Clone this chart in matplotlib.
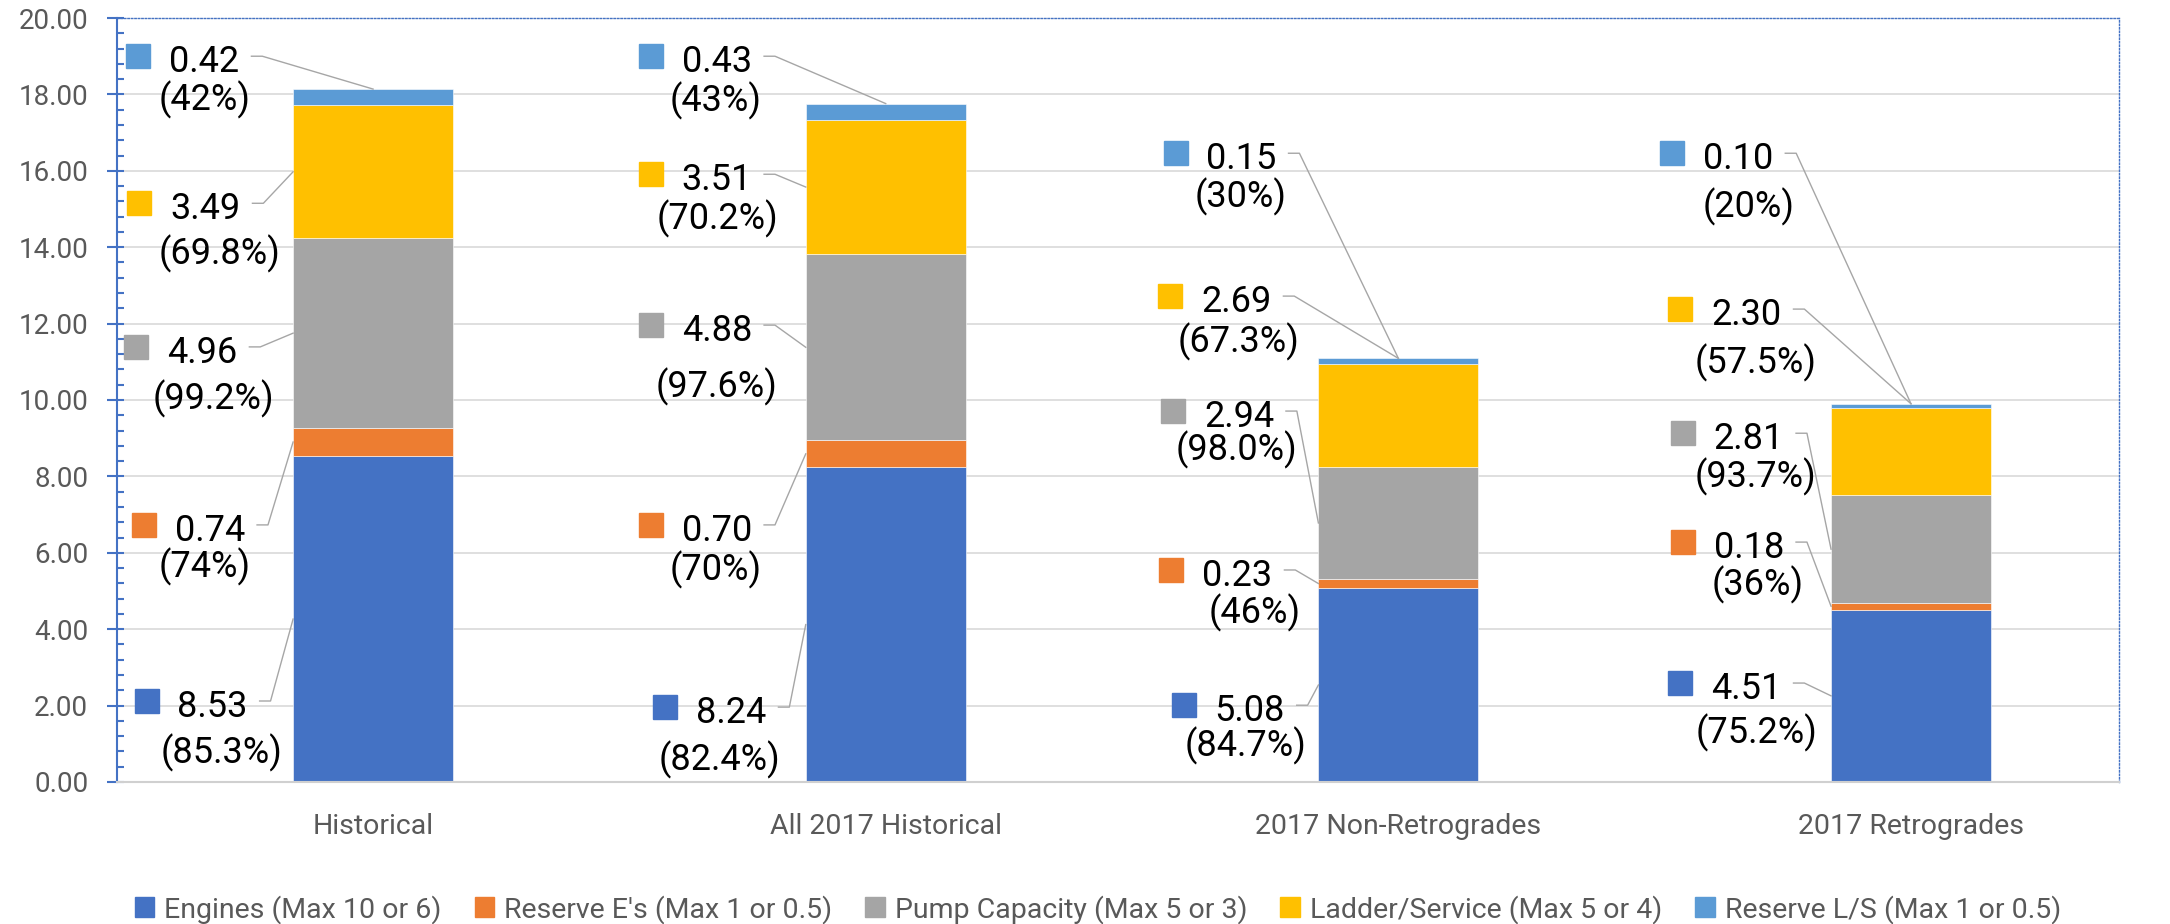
import matplotlib
matplotlib.use('Agg')
import matplotlib.pyplot as plt
import numpy as np
from matplotlib.patches import Patch
from matplotlib.ticker import MultipleLocator, FormatStrFormatter

plt.rcParams['font.family'] = ['Roboto', 'DejaVu Sans']

categories = ['Historical', 'All 2017 Historical', '2017 Non-Retrogrades', '2017 Retrogrades']
series_names = ['Engines (Max 10 or 6)', "Reserve E's (Max 1 or 0.5)", 'Pump Capacity (Max 5 or 3)',
                'Ladder/Service (Max 5 or 4)', 'Reserve L/S (Max 1 or 0.5)']
engines = [8.53, 8.24, 5.08, 4.51]
reserve_e = [0.74, 0.70, 0.23, 0.18]
pump = [4.96, 4.88, 2.94, 2.81]
ladder = [3.49, 3.51, 2.69, 2.30]
reserve_ls = [0.42, 0.43, 0.15, 0.10]
engines_pct = ['85.3%', '82.4%', '84.7%', '75.2%']
reserve_e_pct = ['74%', '70%', '46%', '36%']
pump_pct = ['99.2%', '97.6%', '98.0%', '93.7%']
ladder_pct = ['69.8%', '70.2%', '67.3%', '57.5%']
reserve_ls_pct = ['42%', '43%', '30%', '20%']

colors = ['#4472C4', '#ED7D31', '#A5A5A5', '#FFC000', '#5B9BD5']

# hand-placed label boxes: (value dx from bar centre, value y, pct dx, pct y)
label_pos = [
    [(-0.313, 2.07, -0.296, 0.76), (-0.301, 1.91, -0.324, 0.58), (-0.290, 1.96, -0.299, 0.94), (-0.321, 2.54, -0.302, 1.28)],
    [(-0.318, 6.68, -0.328, 5.63), (-0.329, 6.68, -0.332, 5.55), (-0.314, 5.50, -0.280, 4.42), (-0.316, 6.23, -0.300, 5.16)],
    [(-0.333, 11.34, -0.311, 10.03), (-0.329, 11.91, -0.329, 10.34), (-0.311, 9.66, -0.316, 8.69), (-0.316, 9.08, -0.303, 7.98)],
    [(-0.327, 15.10, -0.300, 13.82), (-0.329, 15.86, -0.329, 14.74), (-0.316, 12.67, -0.312, 11.52), (-0.321, 12.33, -0.303, 10.97)],
    [(-0.329, 18.95, -0.328, 17.85), (-0.329, 18.95, -0.332, 17.84), (-0.306, 16.41, -0.308, 15.31), (-0.337, 16.41, -0.317, 15.05)],
]

series = [engines, reserve_e, pump, ladder, reserve_ls]
pcts = [engines_pct, reserve_e_pct, pump_pct, ladder_pct, reserve_ls_pct]

fig = plt.figure(figsize=(21.7, 9.24), dpi=100)
ax = fig.add_axes([0.0538, 0.1537, 0.9227, 0.8268])

x = np.arange(len(categories))
bar_w = 0.312
bottom = np.zeros(len(categories))
for vals, c, name in zip(series, colors, series_names):
    ax.bar(x, vals, bar_w, bottom=bottom, color=c, edgecolor='white', linewidth=0.4, label=name, zorder=2)
    bottom = bottom + np.array(vals)
totals = bottom

# data labels with leader lines
cum = np.zeros(len(categories))
for s, (vals, pct, c) in enumerate(zip(series, pcts, colors)):
    vals = np.array(vals)
    mids = cum + vals / 2
    for i in range(len(categories)):
        dxv, yv, dxp, yp = label_pos[s][i]
        xv = x[i] + dxv
        ax.text(xv, yv, f'{vals[i]:.2f}', fontsize=26, ha='center', va='center_baseline', color='black', zorder=4)
        ax.text(x[i] + dxp, yp, f'({pct[i]})', fontsize=26, ha='center', va='center', color='black', zorder=4)
        ax.plot(xv - 0.1287, yv + 0.05, marker='s', ms=17, color=c, mec=c, ls='none', zorder=4)
        x1 = xv + 0.0917
        x2 = xv + 0.113
        if yv > totals[i]:
            xe, ye = x[i], totals[i]
        else:
            xe, ye = x[i] - bar_w / 2, mids[i]
        ax.plot([x1, x2, xe], [yv + 0.05, yv + 0.05, ye], color='#A6A6A6', lw=1.0, zorder=3)
    cum = cum + vals

ax.set_xlim(-0.5, 3.4057)
ax.set_ylim(0, 20)
ax.set_xticks(x)
ax.set_xticklabels(categories, fontsize=20.5, color='#595959')
ax.tick_params(axis='x', length=0, pad=22)

ax.yaxis.set_major_locator(MultipleLocator(2))
ax.yaxis.set_minor_locator(MultipleLocator(0.4))
ax.yaxis.set_major_formatter(FormatStrFormatter('%.2f'))
ax.yaxis.remove_overlapping_locs = False
ax.tick_params(axis='y', which='major', direction='out', length=7.5, width=1.5, color='#4472C4',
               labelsize=20, labelcolor='#595959', pad=13)
ax.tick_params(axis='y', which='minor', direction='in', length=5, width=1.5, color='#4472C4')

ax.grid(axis='y', which='major', color='#D9D9D9', lw=1.2, zorder=0)
ax.set_axisbelow(True)

ax.spines['left'].set_color('#4472C4')
ax.spines['left'].set_linewidth(1.5)
for side in ['top', 'right']:
    ax.spines[side].set_color('#4472C4')
    ax.spines[side].set_linewidth(1.0)
    ax.spines[side].set_linestyle((0, (1, 1.5)))
ax.spines['bottom'].set_color('#D0D0D0')
ax.spines['bottom'].set_linewidth(1.5)

handles = [Patch(facecolor=c, edgecolor=c) for c in colors]
fig.legend(handles, series_names, loc='center', bbox_to_anchor=(0.506, 0.016), ncol=5, frameon=False,
           fontsize=20.5, labelcolor='#595959', handlelength=0.7, handleheight=0.7, handletextpad=0.35,
           columnspacing=1.15)

fig.savefig('out.png', dpi=100)
